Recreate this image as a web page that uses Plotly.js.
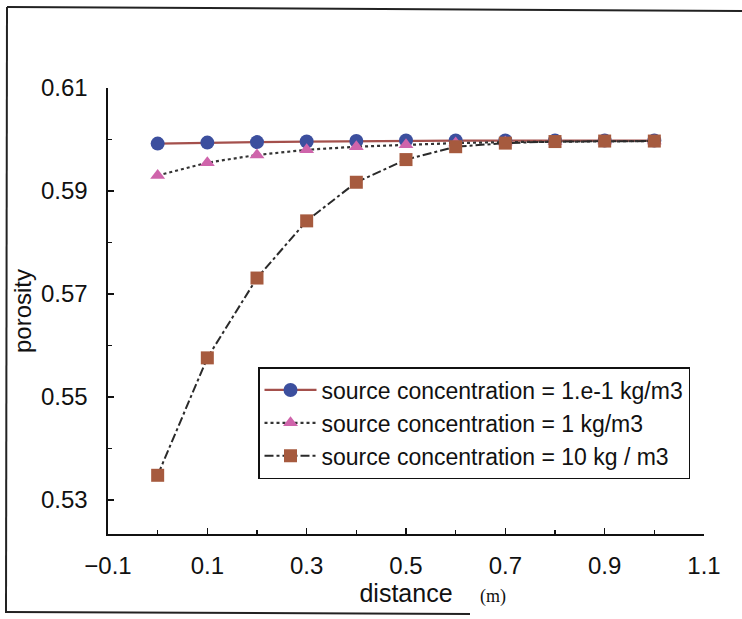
<!DOCTYPE html>
<html>
<head>
<meta charset="utf-8">
<script src="https://cdn.plot.ly/plotly-3.0.1.min.js"></script>
<style>html,body{margin:0;padding:0;background:#fff;}#chart{width:742px;height:619px;}</style>
</head>
<body>
<div id="chart"></div>
<script>
const distance = [0, 0.1, 0.2, 0.3, 0.4, 0.5, 0.6, 0.7, 0.8, 0.9, 1.0];
const porosityLow = [0.5992, 0.5994, 0.5995, 0.5996, 0.5997, 0.5998, 0.5998, 0.5998, 0.5998, 0.5998, 0.5998];
const porosityMid = [0.5930, 0.5955, 0.5970, 0.5980, 0.5986, 0.5990, 0.5993, 0.5995, 0.5996, 0.5997, 0.5997];
const porosityHigh = [0.5348, 0.5576, 0.5731, 0.5842, 0.5917, 0.5961, 0.5986, 0.5993, 0.5996, 0.5997, 0.5997];
const seriesNames = [
  "source concentration = 1.e-1 kg/m3",
  "source concentration = 1 kg/m3",
  "source concentration = 10 kg / m3"
];

const W = 742, H = 619;
const M = {l: 108, r: 38, t: 88, b: 85};
const pw = W - M.l - M.r, ph = H - M.t - M.b;
const px = x => (x - M.l) / pw;
const py = y => (H - M.b - y) / ph;

const font = "Liberation Sans, Arial, sans-serif";

const traces = [
  {x: distance, y: porosityLow, name: seriesNames[0], mode: "lines+markers",
   line: {color: "#a4504c", width: 2.2},
   marker: {symbol: "circle", size: 14, color: "#3c4f9e"}},
  {x: distance, y: porosityMid, name: seriesNames[1], mode: "lines+markers",
   line: {color: "#333333", width: 2.2, dash: "dot"},
   marker: {symbol: "triangle-up", size: 13, color: "#cf64ab"}},
  {x: distance, y: porosityHigh, name: seriesNames[2], mode: "lines+markers",
   line: {color: "#2a2a2a", width: 2, dash: "dashdot"},
   marker: {symbol: "square", size: 13, color: "#a65a3e"}}
];

const layout = {
  width: W, height: H,
  margin: M,
  paper_bgcolor: "#fff", plot_bgcolor: "#fff",
  font: {family: font, color: "#111", size: 24},
  showlegend: true,
  legend: {
    x: px(258), y: py(367), xanchor: "left", yanchor: "top",
    bordercolor: "#111", borderwidth: 1.5, bgcolor: "#fff",
    font: {family: font, size: 23, color: "#111"},
    itemwidth: 52, tracegroupgap: 0
  },
  xaxis: {
    range: [-0.1, 1.1], tick0: -0.1, dtick: 0.2,
    ticks: "inside", ticklen: 6, tickwidth: 1.3, tickcolor: "#111",
    minor: {dtick: 0.1, tick0: -0.1, ticks: "inside", ticklen: 4, tickcolor: "#111", showgrid: false},
    showline: true, linecolor: "#111", linewidth: 1.6,
    showgrid: false, zeroline: false,
    tickfont: {family: font, size: 24, color: "#111"},
    ticklabelstandoff: 10,
    title: {text: "distance", font: {family: font, size: 25, color: "#111"}, standoff: 0},
    automargin: false
  },
  yaxis: {
    range: [0.5234, 0.61], tick0: 0.53, dtick: 0.02,
    ticks: "inside", ticklen: 6, tickwidth: 1.3, tickcolor: "#111",
    minor: {dtick: 0.01, tick0: 0.53, ticks: "inside", ticklen: 4, tickcolor: "#111", showgrid: false},
    showline: true, linecolor: "#111", linewidth: 1.6,
    showgrid: false, zeroline: false,
    tickfont: {family: font, size: 24, color: "#111"},
    ticklabelstandoff: 14,
    title: {text: "porosity", font: {family: font, size: 24, color: "#111"}, standoff: 2},
    automargin: false
  },
  annotations: [
    {text: "(m)", xref: "paper", yref: "paper", x: px(493), y: py(596),
     showarrow: false, xanchor: "center", yanchor: "middle",
     font: {family: "Liberation Serif, Times New Roman, serif", size: 18, color: "#111"}}
  ],
  shapes: [
    {type: "line", xref: "paper", yref: "paper", x0: px(7), y0: py(7), x1: px(742), y1: py(11), line: {color: "#222", width: 2}},
    {type: "line", xref: "paper", yref: "paper", x0: px(7), y0: py(7), x1: px(6), y1: py(612), line: {color: "#222", width: 2}},
    {type: "line", xref: "paper", yref: "paper", x0: px(5), y0: py(612), x1: px(470), y1: py(614), line: {color: "#222", width: 2}}
  ]
};

Plotly.newPlot("chart", traces, layout, {staticPlot: true, displayModeBar: false});
</script>
</body>
</html>
